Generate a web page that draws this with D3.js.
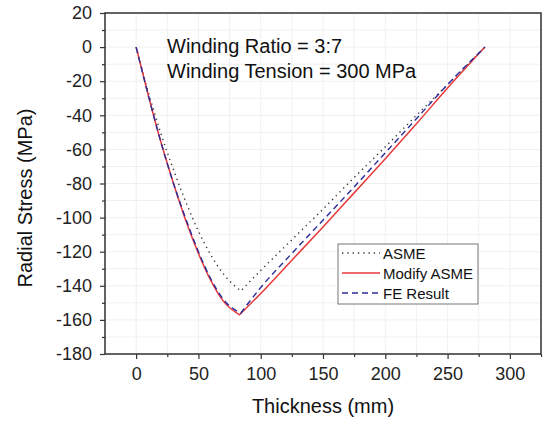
<!DOCTYPE html>
<html>
<head>
<meta charset="utf-8">
<script src="https://cdn.jsdelivr.net/npm/d3@7"></script>
<style>
  body { margin: 0; background: #fff; }
  svg { display: block; font-family: "Liberation Sans", Arial, sans-serif; }
</style>
</head>
<body>
<div id="chart"></div>
<script>
// thickness (mm) / radial stress (MPa)
const asmeX = [0, 10, 20, 30, 40, 50, 60, 70, 84, 100, 125, 150, 175, 200, 225, 250, 280];
const asmeY = [0, -27, -51, -72, -91, -108, -122, -133, -143, -131, -113, -95, -76.5, -58.5, -40, -22, 0];

const modX = [0, 10, 20, 30, 40, 50, 60, 70, 83, 100, 125, 150, 175, 200, 225, 250, 280];
const modY = [0, -29, -56, -80, -102, -121, -137, -149, -157, -144.5, -125, -105.5, -85.5, -65.5, -45, -24, 0];

const feX = [0, 10, 20, 30, 40, 50, 60, 70, 84, 100, 125, 150, 175, 200, 225, 250, 280];
const feY = [0, -29, -56, -80, -101, -120, -136, -148, -156, -141, -121, -101.5, -82, -62, -42, -22, 0];

const xTicks = [0, 50, 100, 150, 200, 250, 300];
const yTicks = [20, 0, -20, -40, -60, -80, -100, -120, -140, -160, -180];

const width = 547, height = 421;
const plotL = 105, plotR = 541, plotT = 13, plotB = 354;

const svg = d3.select("#chart").append("svg")
  .attr("width", width)
  .attr("height", height);

const x = d3.scaleLinear().domain([-25, 325]).range([plotL, plotR]);
const y = d3.scaleLinear().domain([-180, 20]).range([plotB, plotT]);

// faint grid
const gx = d3.range(-25, 326, 25), gy = d3.range(-180, 21, 10);
svg.append("g").selectAll("line").data(gx).enter().append("line")
  .attr("x1", d => x(d)).attr("x2", d => x(d))
  .attr("y1", plotT).attr("y2", plotB)
  .attr("stroke", "#f0f0f0").attr("stroke-width", 1);
svg.append("g").selectAll("line").data(gy).enter().append("line")
  .attr("x1", plotL).attr("x2", plotR)
  .attr("y1", d => y(d)).attr("y2", d => y(d))
  .attr("stroke", "#f0f0f0").attr("stroke-width", 1);

// minor ticks
svg.append("g")
  .attr("transform", `translate(0,${plotB})`)
  .call(d3.axisBottom(x).tickValues(d3.range(25, 326, 50)).tickSize(3).tickFormat(""))
  .call(g => g.select(".domain").remove())
  .selectAll("line").attr("stroke", "#333").attr("stroke-width", 1.2);
svg.append("g")
  .attr("transform", `translate(${plotL},0)`)
  .call(d3.axisLeft(y).tickValues(d3.range(-170, 20, 20)).tickSize(3).tickFormat(""))
  .call(g => g.select(".domain").remove())
  .selectAll("line").attr("stroke", "#333").attr("stroke-width", 1.2);

// major axes (plain hyphen minus like the original)
const fmt = d => String(d);
const xAxis = svg.append("g")
  .attr("transform", `translate(0,${plotB})`)
  .call(d3.axisBottom(x).tickValues(xTicks).tickFormat(fmt).tickSize(5).tickSizeOuter(0).tickPadding(8));
const yAxis = svg.append("g")
  .attr("transform", `translate(${plotL},0)`)
  .call(d3.axisLeft(y).tickValues(yTicks).tickFormat(fmt).tickSize(5).tickSizeOuter(0).tickPadding(8));

[xAxis, yAxis].forEach(g => {
  g.select(".domain").remove();
  g.selectAll("line").attr("stroke", "#333").attr("stroke-width", 1.2);
  g.selectAll("text").attr("fill", "#222").style("font-size", "18px")
    .style("font-family", "'Liberation Sans', Arial, sans-serif");
});

// frame
svg.append("rect")
  .attr("x", plotL).attr("y", plotT)
  .attr("width", plotR - plotL).attr("height", plotB - plotT)
  .attr("fill", "none").attr("stroke", "#333").attr("stroke-width", 1.5);

// curves: each drawn as two branches so the minimum stays a sharp corner
const line = d3.line().curve(d3.curveMonotoneX);
function branchPath(xs, ys) {
  const k = ys.indexOf(d3.min(ys));
  const pts = xs.map((d, i) => [x(d), y(ys[i])]);
  const a = line(pts.slice(0, k + 1));
  const b = line(pts.slice(k));
  return a + b.replace(/^M[^CL]*/, "");
}

svg.append("path")
  .attr("d", branchPath(asmeX, asmeY))
  .attr("fill", "none").attr("stroke", "#333").attr("stroke-width", 1.4)
  .attr("stroke-dasharray", "1.3,4");
svg.append("path")
  .attr("d", branchPath(modX, modY))
  .attr("fill", "none").attr("stroke", "#e8383a").attr("stroke-width", 1.5);
svg.append("path")
  .attr("d", branchPath(feX, feY))
  .attr("fill", "none").attr("stroke", "#2a2d9a").attr("stroke-width", 1.4)
  .attr("stroke-dasharray", "6,4");

// annotation
svg.append("text").attr("x", 167).attr("y", 53)
  .style("font-size", "20px").attr("fill", "#111")
  .text("Winding Ratio = 3:7");
svg.append("text").attr("x", 167).attr("y", 78)
  .style("font-size", "20px").attr("fill", "#111")
  .text("Winding Tension = 300 MPa");

// legend
const legend = svg.append("g");
legend.append("rect")
  .attr("x", 338).attr("y", 244).attr("width", 140).attr("height", 60)
  .attr("fill", "#fff").attr("stroke", "#777").attr("stroke-width", 1);
const legItems = [
  { name: "ASME", color: "#333", dash: "1.3,4", w: 1.4 },
  { name: "Modify ASME", color: "#e8383a", dash: null, w: 1.6 },
  { name: "FE Result", color: "#2a2d9a", dash: "6,4", w: 1.4 }
];
legItems.forEach((d, i) => {
  const cy = 253 + i * 20;
  legend.append("line")
    .attr("x1", 342).attr("x2", 380).attr("y1", cy).attr("y2", cy)
    .attr("stroke", d.color).attr("stroke-width", d.w)
    .attr("stroke-dasharray", d.dash);
  legend.append("text")
    .attr("x", 383).attr("y", cy + 5.5)
    .style("font-size", "15px").attr("fill", "#111")
    .text(d.name);
});

// axis titles
svg.append("text")
  .attr("x", 323).attr("y", 413)
  .attr("text-anchor", "middle")
  .style("font-size", "20px").attr("fill", "#111")
  .text("Thickness (mm)");
svg.append("text")
  .attr("transform", `translate(32,198) rotate(-90)`)
  .attr("text-anchor", "middle")
  .style("font-size", "20px").attr("fill", "#111")
  .text("Radial Stress (MPa)");
</script>
</body>
</html>
